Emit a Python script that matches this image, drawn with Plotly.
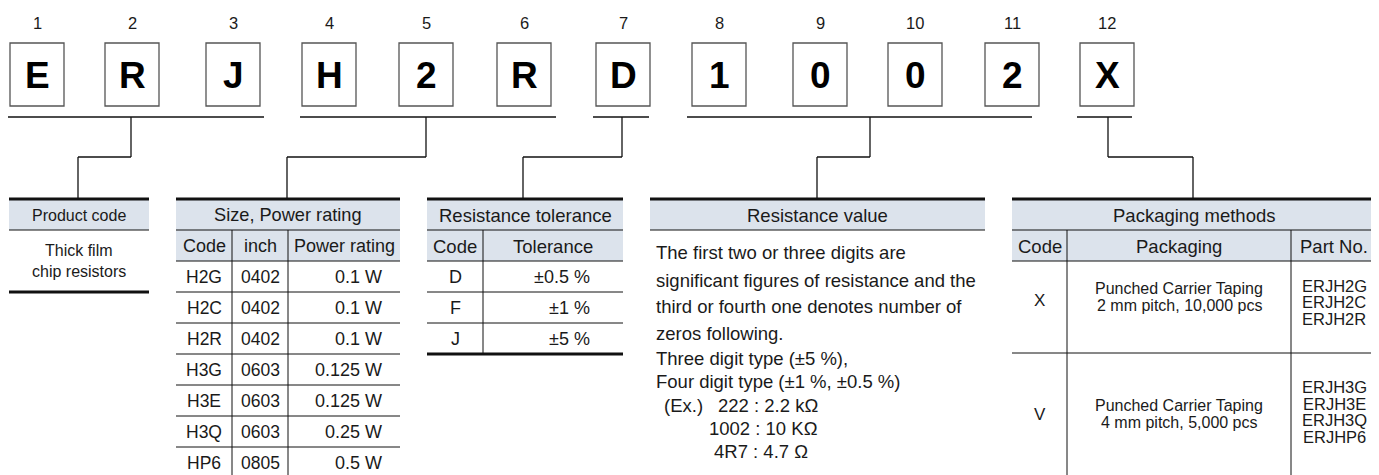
import plotly.graph_objects as go

W, H = 1379, 475
PAGE_MARGIN = 8  # default body margin of the written html page

# ---------------- data ----------------
position_numbers = [str(i) for i in range(1, 13)]
part_number_chars = ["E", "R", "J", "H", "2", "R", "D", "1", "0", "0", "2", "X"]

product_title = "Product code"
product_lines = ["Thick film", "chip resistors"]

size_title = "Size, Power rating"
size_columns = ["Code", "inch", "Power rating"]
size_codes = ["H2G", "H2C", "H2R", "H3G", "H3E", "H3Q", "HP6"]
size_inches = ["0402", "0402", "0402", "0603", "0603", "0603", "0805"]
size_power = ["0.1 W", "0.1 W", "0.1 W", "0.125 W", "0.125 W", "0.25 W", "0.5 W"]

tol_title = "Resistance tolerance"
tol_columns = ["Code", "Tolerance"]
tol_codes = ["D", "F", "J"]
tol_values = ["±0.5 %", "±1 %", "±5 %"]

resval_title = "Resistance value"
resval_lines = [
    "The first two or three digits are",
    "significant figures of resistance and the",
    "third or fourth one denotes number of",
    "zeros following.",
    "Three digit type (±5 %),",
    "Four digit type (±1 %, ±0.5 %)",
]
resval_example_label = "(Ex.)"
resval_examples = ["222 : 2.2 kΩ", "1002 : 10 KΩ", "4R7 : 4.7 Ω"]

pack_title = "Packaging methods"
pack_columns = ["Code", "Packaging", "Part No."]
pack_codes = ["X", "V"]
pack_desc = [["Punched Carrier Taping", "2 mm pitch, 10,000 pcs"],
             ["Punched Carrier Taping", "4 mm pitch, 5,000 pcs"]]
pack_parts = [["ERJH2G", "ERJH2C", "ERJH2R"],
              ["ERJH3G", "ERJH3E", "ERJH3Q", "ERJHP6"]]

# ---------------- layout constants ----------------
FONT = "Liberation Sans, Arial, sans-serif"
TXT = "#1a1a1a"
HDR = "#dce3ec"
box_lefts = [10, 105, 206, 302, 399, 497, 596, 692, 793, 888, 985, 1080]
BOX_W, BOX_T, BOX_B = 54, 43, 106
underlines = [(8, 264), (300, 556), (593, 649), (687, 1032), (1077, 1132)]
connectors = [(131, 78), (426, 287), (622, 523), (870, 817), (1108, 1193)]
UL_Y, MID_Y, TOP_Y = 117, 157, 199

shapes = []
annotations = []


def line(x0, y0, x1, y1, w=1, color="#111"):
    shapes.append(dict(type="line", xref="x", yref="y", x0=x0, y0=y0, x1=x1, y1=y1,
                       line=dict(color=color, width=w)))


def rect(x0, y0, x1, y1, fill=None, border=None, w=1, layer="below"):
    shapes.append(dict(type="rect", xref="x", yref="y", x0=x0, y0=y0, x1=x1, y1=y1,
                       fillcolor=fill if fill else "rgba(0,0,0,0)",
                       line=dict(color=border if border else "rgba(0,0,0,0)", width=w if border else 0),
                       layer=layer))


def text(x, y, s, size=16, anchor="center", bold=False, color=TXT):
    annotations.append(dict(x=x, y=y, xref="x", yref="y", text=("<b>%s</b>" % s) if bold else s,
                            showarrow=False, xanchor=anchor, yanchor="middle",
                            font=dict(family=FONT, size=size, color=color)))


# ---------------- part number boxes ----------------
for i, (num, ch) in enumerate(zip(position_numbers, part_number_chars)):
    x0 = box_lefts[i]
    cx = x0 + BOX_W / 2
    text(cx, 23, num, size=16.5)
    rect(x0, BOX_T, x0 + BOX_W, BOX_B, fill="white", border="#555", w=1.3)
    text(cx, 75, ch, size=37, bold=True, color="#000")

for (a, b) in underlines:
    line(a, UL_Y, b, UL_Y, w=1.3)
for (d, t) in connectors:
    line(d, UL_Y, d, MID_Y, w=1.3)
    line(min(d, t), MID_Y, max(d, t), MID_Y, w=1.3)
    line(t, MID_Y, t, TOP_Y, w=1.3)

# ---------------- Product code ----------------
px0, px1 = 9, 149
rect(px0, TOP_Y, px1, 230, fill=HDR)
line(px0, TOP_Y, px1, TOP_Y, w=3)
line(px0, 230, px1, 230)
line(px0, 292, px1, 292, w=3)
text((px0 + px1) / 2, 215, product_title, size=16)
text((px0 + px1) / 2, 250, product_lines[0], size=16)
text((px0 + px1) / 2, 271, product_lines[1], size=16)

# ---------------- Size, Power rating ----------------
sx = [176, 232, 288, 400]
rect(sx[0], TOP_Y, sx[3], 261, fill=HDR)
line(sx[0], TOP_Y, sx[3], TOP_Y, w=3)
line(sx[0], 230, sx[3], 230)
text((sx[0] + sx[3]) / 2, 215, size_title, size=18.2)
row_h = 31
for k in range(len(size_codes) + 1):
    yb = 261 + k * row_h
    line(sx[0], yb, sx[3], yb)
line(sx[1], 230, sx[1], H + 5)
line(sx[2], 230, sx[2], H + 5)
for j, c in enumerate(size_columns):
    text((sx[j] + sx[j + 1]) / 2, 246, c, size=18)
for k in range(len(size_codes)):
    yc = 261 + k * row_h + row_h / 2
    text((sx[0] + sx[1]) / 2, yc, size_codes[k], size=17.5)
    text((sx[1] + sx[2]) / 2, yc, size_inches[k], size=17.5)
    text(384, yc, size_power[k], size=18, anchor="right")

# ---------------- Resistance tolerance ----------------
tx = [427, 483, 623]
rect(tx[0], TOP_Y, tx[2], 261, fill=HDR)
line(tx[0], TOP_Y, tx[2], TOP_Y, w=3)
line(tx[0], 230, tx[2], 230)
line(tx[0], 261, tx[2], 261)
text((tx[0] + tx[2]) / 2, 215, tol_title, size=18.5)
for j, c in enumerate(tol_columns):
    text((tx[j] + tx[j + 1]) / 2, 246, c, size=18.5)
for k in range(len(tol_codes)):
    yc = 261 + k * row_h + row_h / 2
    text((tx[0] + tx[1]) / 2, yc, tol_codes[k], size=18)
    text(592, yc, tol_values[k], size=18, anchor="right")
    if k < len(tol_codes) - 1:
        line(tx[0], 261 + (k + 1) * row_h, tx[2], 261 + (k + 1) * row_h)
tol_bottom = 261 + len(tol_codes) * row_h
line(tx[1], 230, tx[1], tol_bottom)
line(tx[0], tol_bottom, tx[2], tol_bottom, w=3)

# ---------------- Resistance value ----------------
rx0, rx1 = 650, 985
rect(rx0, TOP_Y, rx1, 230, fill=HDR)
line(rx0, TOP_Y, rx1, TOP_Y, w=3)
line(rx0, 230, rx1, 230)
text((rx0 + rx1) / 2, 215, resval_title, size=18.5)
res_line_y = [252, 280, 306, 333, 358, 381]
for s, yv in zip(resval_lines, res_line_y):
    text(654, yv, s, size=18.5, anchor="left")
ex_y = [405, 428, 451]
ex_x = [716, 707, 712]
text(662, ex_y[0], resval_example_label, size=18.5, anchor="left")
for s, yv, xv in zip(resval_examples, ex_y, ex_x):
    text(xv, yv, s, size=18.5, anchor="left")

# ---------------- Packaging methods ----------------
kx = [1012, 1067, 1291, 1377]
rect(kx[0], TOP_Y, kx[3], 261, fill=HDR)
line(kx[0], TOP_Y, kx[3], TOP_Y, w=3)
line(kx[0], 230, kx[3], 230)
line(kx[0], 261, kx[3], 261)
line(kx[0], 353, kx[3], 353)
text((kx[0] + kx[3]) / 2, 215, pack_title, size=18.5)
for j, c in enumerate(pack_columns):
    text((kx[j] + kx[j + 1]) / 2, 246, c, size=18.5)
line(kx[1], 230, kx[1], H + 5)
line(kx[2], 230, kx[2], H + 5)
code_y = [300, 414]
desc_y = [297, 414]
parts_y = [302, 412]
for k in range(len(pack_codes)):
    text((kx[0] + kx[1]) / 2, code_y[k], pack_codes[k], size=17)
    text((kx[1] + kx[2]) / 2, desc_y[k] - 8.5, pack_desc[k][0], size=16)
    text((kx[1] + kx[2]) / 2, desc_y[k] + 8.5, pack_desc[k][1], size=16)
    n = len(pack_parts[k])
    for m, p in enumerate(pack_parts[k]):
        text((kx[2] + kx[3]) / 2, parts_y[k] + (m - (n - 1) / 2) * 16.5, p, size=16.5)

fig = go.Figure()
fig.update_layout(
    width=W - PAGE_MARGIN, height=H - PAGE_MARGIN,
    margin=dict(l=0, r=0, t=0, b=0),
    paper_bgcolor="white", plot_bgcolor="white",
    xaxis=dict(range=[PAGE_MARGIN, W], visible=False, fixedrange=True),
    yaxis=dict(range=[H, PAGE_MARGIN], visible=False, fixedrange=True),
    shapes=shapes, annotations=annotations,
    showlegend=False,
)
fig.write_html("out.html")
